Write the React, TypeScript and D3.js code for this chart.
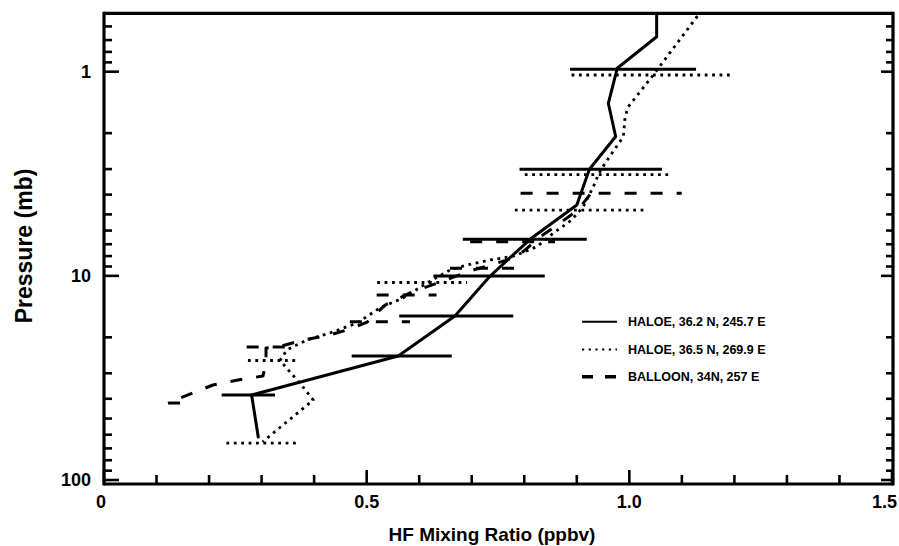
import React from 'react';
import * as d3 from 'd3';

// HALOE, 36.2 N, 245.7 E (solid)
const haloe1X = [1.052, 1.052, 0.977, 0.96, 0.974, 0.924, 0.9, 0.811, 0.735, 0.668, 0.56, 0.281, 0.294];
const haloe1P = [0.5, 0.674, 0.962, 1.428, 2.077, 3.007, 4.498, 6.622, 10.02, 15.73, 24.7, 38.34, 62.48];
const haloe1BarP = [0.973, 3.007, 6.62, 10.02, 15.73, 24.7, 38.34];
const haloe1BarLo = [0.887, 0.791, 0.683, 0.627, 0.562, 0.4715, 0.224];
const haloe1BarHi = [1.127, 1.062, 0.919, 0.839, 0.779, 0.662, 0.3255];

// HALOE, 36.5 N, 269.9 E (dotted)
const haloe2X = [1.138, 1.0456, 0.998, 0.992, 0.9885, 0.9537, 0.941, 0.9316, 0.912, 0.89, 0.855, 0.8238, 0.781, 0.735, 0.691, 0.6586, 0.6148, 0.569, 0.525, 0.4816, 0.43, 0.3864, 0.3483, 0.335, 0.3731, 0.3984, 0.302];
const haloe2P = [0.5, 1.038, 1.484, 1.661, 2.082, 2.81, 3.19, 3.66, 4.585, 5.33, 6.19, 7.2, 7.99, 8.36, 8.85, 9.36, 10.84, 12.84, 14.37, 17.02, 19.05, 20.57, 23.03, 25.98, 33.6, 40.57, 65.0];
const haloe2BarP = [1.038, 3.19, 4.76, 10.78, 25.98, 65.9];
const haloe2BarLo = [0.89, 0.801, 0.782, 0.52, 0.274, 0.233];
const haloe2BarHi = [1.197, 1.077, 1.03, 0.691, 0.369, 0.37];

// BALLOON, 34N, 257 E (dashed)
const balloonX = [0.925, 0.902, 0.855, 0.83, 0.786, 0.748, 0.697, 0.64, 0.5825, 0.535, 0.501, 0.474, 0.43, 0.379, 0.335, 0.3084, 0.3084, 0.3027, 0.255, 0.2075, 0.154, 0.122];
const balloonP = [4.0, 4.76, 5.83, 6.45, 8.08, 8.65, 9.47, 10.72, 12.13, 13.9, 16.83, 18.01, 19.49, 20.62, 22.19, 22.57, 26.42, 30.95, 32.37, 34.25, 38.79, 41.97];
const balloonBarP = [3.94, 6.8, 9.19, 12.41, 16.77, 22.31, 41.97];
const balloonBarLo = [0.793, 0.697, 0.6586, 0.519, 0.468, 0.2716, 0.122];
const balloonBarHi = [1.0997, 0.8585, 0.7856, 0.633, 0.5825, 0.3674, 0.1485];

const xTickValues = [0, 0.5, 1.0, 1.5];
const xTickLabels = ['0', '0.5', '1.0', '1.5'];
const yTickValues = [1, 10, 100];
const yTickLabels = ['1', '10', '100'];
const legendLabels = ['HALOE, 36.2 N, 245.7 E', 'HALOE, 36.5 N, 269.9 E', 'BALLOON, 34N, 257 E'];
const xTitle = 'HF Mixing Ratio (ppbv)';
const yTitle = 'Pressure (mb)';

const FONT = '"Liberation Sans", Arial, Helvetica, sans-serif';

export default function App() {
  const W = 899, H = 546;
  const left = 104, right = 892, top = 13.3, bottom = 484;
  const x = d3.scaleLinear().domain([0, 1.5]).range([left, right]);
  const y = d3.scaleLog().domain([0.5176, 104.6]).range([top, bottom]);

  const line = d3.line<[number, number]>().x(d => x(d[0])).y(d => y(d[1]));
  const pts = (xs: number[], ps: number[]) => xs.map((v, i) => [v, ps[i]] as [number, number]);

  const styles = [
    { width: 3, dash: undefined as string | undefined },
    { width: 2.8, dash: '2.8 4.6' },
    { width: 3, dash: '12 14' },
  ];
  const series = [
    { xs: haloe1X, ps: haloe1P, bp: haloe1BarP, lo: haloe1BarLo, hi: haloe1BarHi },
    { xs: haloe2X, ps: haloe2P, bp: haloe2BarP, lo: haloe2BarLo, hi: haloe2BarHi },
    { xs: balloonX, ps: balloonP, bp: balloonBarP, lo: balloonBarLo, hi: balloonBarHi },
  ];

  const yTicks: { v: number; major: boolean }[] = [];
  for (let k = -1; k <= 2; k++) {
    for (let m = 1; m <= 9; m++) {
      const v = m * Math.pow(10, k);
      if (v >= 0.5176 && v <= 104.6) yTicks.push({ v, major: m === 1 });
    }
  }
  const xTicks = d3.range(0, 16).map(i => ({ v: i / 10, major: i % 5 === 0 }));

  const legendY = [321.7, 349.5, 376.7];

  return (
    <div style={{ position: 'absolute', left: 0, top: 0 }}>
      <svg width={W} height={H} style={{ display: 'block', background: '#fff' }}>
        <defs>
          <clipPath id="plotclip">
            <rect x={left} y={top} width={right - left + 2} height={bottom - top} />
          </clipPath>
        </defs>
        <rect x={0} y={0} width={W} height={H} fill="#fff" />

        <g clipPath="url(#plotclip)">
          {series.map((s, i) => (
            <g key={i}>
              <path d={line(pts(s.xs, s.ps)) || ''} fill="none" stroke="#000"
                strokeWidth={styles[i].width} strokeDasharray={styles[i].dash} strokeLinejoin="round" />
              {s.bp.map((p, j) => (
                <line key={j} x1={x(s.lo[j])} x2={x(s.hi[j])} y1={y(p)} y2={y(p)} stroke="#000"
                  strokeWidth={styles[i].width} strokeDasharray={styles[i].dash} />
              ))}
            </g>
          ))}
        </g>

        <line x1={left} x2={left} y1={top - 1.5} y2={bottom + 1.5} stroke="#000" strokeWidth={3.2} />
        <line x1={right + 1} x2={right + 1} y1={top - 1.5} y2={bottom + 1.5} stroke="#000" strokeWidth={3.2} />
        <line x1={left} x2={right + 1} y1={top} y2={top} stroke="#000" strokeWidth={3.2} />
        <line x1={left} x2={right + 1} y1={bottom} y2={bottom} stroke="#000" strokeWidth={3.2} />

        {yTicks.map((t, i) => (
          <g key={i}>
            <line x1={left} x2={left + (t.major ? 15 : 8)} y1={y(t.v)} y2={y(t.v)} stroke="#000" strokeWidth={2.6} />
            <line x1={right + 1} x2={right + 1 - (t.major ? 12 : 7)} y1={y(t.v)} y2={y(t.v)} stroke="#000" strokeWidth={2.6} />
          </g>
        ))}
        {xTicks.map((t, i) => (
          <line key={i} x1={x(t.v)} x2={x(t.v)} y1={bottom} y2={bottom - (t.major ? 14 : 9)} stroke="#000" strokeWidth={2.6} />
        ))}

        {yTickValues.map((v, i) => (
          <text key={i} x={91} y={y(v)} dy="0.36em" textAnchor="end" fontFamily={FONT} fontWeight="bold" fontSize={18}>{yTickLabels[i]}</text>
        ))}
        {xTickValues.map((v, i) => (
          <text key={i} x={i === 3 ? 897 : x(v) - (i === 0 ? 3 : 0)} y={508}
            textAnchor={i === 3 ? 'end' : 'middle'} fontFamily={FONT} fontWeight="bold" fontSize={18}>{xTickLabels[i]}</text>
        ))}

        <text x={492} y={541} textAnchor="middle" fontFamily={FONT} fontWeight="bold" fontSize={19}>{xTitle}</text>
        <text transform={`translate(32,246) rotate(-90)`} textAnchor="middle" fontFamily={FONT} fontWeight="bold" fontSize={23}>{yTitle}</text>

        {legendLabels.map((lab, i) => (
          <g key={i}>
            <line x1={582} x2={617} y1={legendY[i]} y2={legendY[i]} stroke="#000"
              strokeWidth={i === 0 ? 2 : i === 1 ? 2.2 : 3.5}
              strokeDasharray={i === 1 ? '2.2 4.5' : i === 2 ? '11 12' : undefined} />
            <text x={628} y={legendY[i]} dy="0.36em" fontFamily={FONT} fontWeight="bold" fontSize={12.5}>{lab}</text>
          </g>
        ))}
      </svg>
    </div>
  );
}
